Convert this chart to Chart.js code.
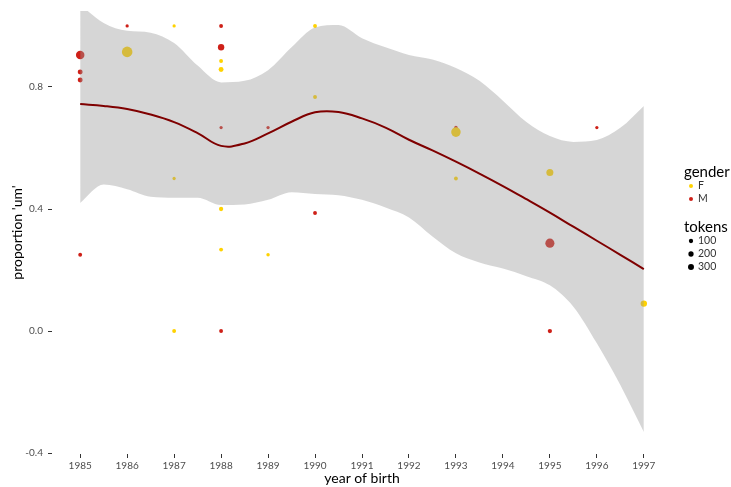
<!DOCTYPE html>
<html>
<head>
<meta charset="utf-8">
<script src="https://cdn.jsdelivr.net/npm/chart.js@4/dist/chart.umd.min.js"></script>
<style>
  html, body { margin: 0; padding: 0; background: #fff; }
  #chart { display: block; }
</style>
</head>
<body>
<canvas id="chart" width="731" height="487"></canvas>
<script>
// axis ticks
var xTicks = [1985, 1986, 1987, 1988, 1989, 1990, 1991, 1992, 1993, 1994, 1995, 1996, 1997];
var yTicks = [-0.4, 0, 0.4, 0.8];

// speakers, gender F
var femaleYear   = [1986, 1987, 1987, 1987, 1988, 1988, 1988, 1988, 1989, 1990, 1990, 1993, 1993, 1995, 1997];
var femaleProp   = [0.915, 1.0, 0.5, 0.0, 0.885, 0.857, 0.4, 0.267, 0.25, 1.0, 0.767, 0.652, 0.5, 0.52, 0.09];
var femaleTokens = [1390, 30, 30, 67, 67, 162, 100, 67, 40, 67, 67, 1070, 67, 476, 364];

// speakers, gender M
var maleYear   = [1985, 1985, 1985, 1985, 1986, 1988, 1988, 1988, 1988, 1989, 1990, 1993, 1995, 1995, 1996];
var maleProp   = [0.905, 0.849, 0.823, 0.25, 1.0, 1.0, 0.93, 0.667, 0.0, 0.667, 0.387, 0.667, 0.288, 0.0, 0.667];
var maleTokens = [794, 162, 162, 67, 30, 67, 364, 30, 67, 30, 67, 40, 955, 100, 30];

// loess fit and its confidence band
var smoothYear  = [1985, 1985.5, 1986, 1986.5, 1987, 1987.5, 1988, 1988.5, 1989, 1989.5, 1990, 1990.5, 1991,
                   1991.5, 1992, 1992.5, 1993, 1993.5, 1994, 1994.5, 1995, 1995.5, 1996, 1996.5, 1997];
var smoothFit   = [0.744, 0.738, 0.728, 0.71, 0.685, 0.649, 0.607, 0.615, 0.648, 0.686, 0.717, 0.718, 0.697,
                   0.667, 0.627, 0.592, 0.555, 0.516, 0.475, 0.432, 0.388, 0.342, 0.296, 0.25, 0.203];
var smoothUpper = [1.069, 1.01, 0.984, 0.978, 0.944, 0.87, 0.815, 0.82, 0.855, 0.93, 0.995, 1.003, 0.96,
                   0.93, 0.905, 0.89, 0.862, 0.82, 0.755, 0.685, 0.639, 0.62, 0.626, 0.666, 0.738];
var smoothLower = [0.42, 0.48, 0.465, 0.44, 0.437, 0.437, 0.413, 0.415, 0.43, 0.455, 0.449, 0.445, 0.43,
                   0.405, 0.372, 0.31, 0.255, 0.225, 0.205, 0.18, 0.15, 0.08, -0.04, -0.177, -0.331];

var legendTokens = [100, 200, 300];

var colF = 'rgb(255, 210, 0)';
var colM = 'rgb(206, 32, 24)';
var fontFamily = 'Lato, "Liberation Sans", sans-serif';

function radiusFor(t) {
  return 1.0 + 0.115 * Math.sqrt(t);
}

function pairs(xs, ys) {
  return xs.map(function (x, i) { return { x: x, y: ys[i] }; });
}

var legendPlugin = {
  id: 'ggLegend',
  afterDraw: function (chart) {
    var ctx = chart.ctx;
    ctx.save();
    ctx.textBaseline = 'middle';
    ctx.textAlign = 'left';

    ctx.fillStyle = '#000';
    ctx.font = '15px ' + fontFamily;
    ctx.fillText('gender', 684, 172);
    ctx.fillText('tokens', 684, 227);

    ctx.font = '10.5px ' + fontFamily;
    [['F', colF, 186], ['M', colM, 199]].forEach(function (g) {
      ctx.fillStyle = g[1];
      ctx.beginPath();
      ctx.arc(691, g[2], 2, 0, Math.PI * 2);
      ctx.fill();
      ctx.fillStyle = '#333';
      ctx.fillText(g[0], 698, g[2]);
    });

    legendTokens.forEach(function (t, i) {
      var y = 241 + i * 13;
      ctx.fillStyle = '#000';
      ctx.beginPath();
      ctx.arc(691, y, radiusFor(t), 0, Math.PI * 2);
      ctx.fill();
      ctx.fillStyle = '#333';
      ctx.fillText(String(t), 698, y);
    });
    ctx.restore();
  }
};

var chart = new Chart(document.getElementById('chart').getContext('2d'), {
  type: 'line',
  data: {
    datasets: [
      {
        label: 'fit',
        data: pairs(smoothYear, smoothFit),
        borderColor: '#7f0000',
        borderWidth: 2,
        pointRadius: 0,
        fill: false,
        tension: 0.4,
        order: 0
      },
      {
        label: 'upper',
        data: pairs(smoothYear, smoothUpper),
        borderWidth: 0,
        borderColor: 'rgba(0,0,0,0)',
        backgroundColor: 'rgba(153,153,153,0.4)',
        pointRadius: 0,
        fill: '+1',
        cubicInterpolationMode: 'monotone',
        order: 1
      },
      {
        label: 'lower',
        data: pairs(smoothYear, smoothLower),
        borderWidth: 0,
        borderColor: 'rgba(0,0,0,0)',
        pointRadius: 0,
        fill: false,
        cubicInterpolationMode: 'monotone',
        order: 1
      },
      {
        label: 'F',
        data: pairs(femaleYear, femaleProp),
        showLine: false,
        pointBackgroundColor: colF,
        pointBorderWidth: 0,
        pointRadius: function (c) { return radiusFor(femaleTokens[c.dataIndex]); },
        order: 2
      },
      {
        label: 'M',
        data: pairs(maleYear, maleProp),
        showLine: false,
        pointBackgroundColor: colM,
        pointBorderWidth: 0,
        pointRadius: function (c) { return radiusFor(maleTokens[c.dataIndex]); },
        order: 2
      }
    ]
  },
  options: {
    responsive: false,
    animation: false,
    events: [],
    layout: { padding: { left: 0, right: 59, top: 0, bottom: 0 } },
    plugins: {
      legend: { display: false },
      tooltip: { enabled: false }
    },
    scales: {
      x: {
        type: 'linear',
        min: 1984.4,
        max: 1997.6,
        afterBuildTicks: function (s) { s.ticks = xTicks.map(function (v) { return { value: v }; }); },
        afterFit: function (s) { s.height = 33; },
        border: { display: false },
        grid: { drawOnChartArea: false, drawTicks: true, tickLength: 4, color: '#333' },
        ticks: {
          padding: 2,
          color: '#4d4d4d',
          font: { family: fontFamily, size: 10 },
          maxRotation: 0,
          callback: function (v) { return String(v); }
        },
        title: {
          display: true,
          text: 'year of birth',
          color: '#000',
          font: { family: fontFamily, size: 14 },
          padding: { top: 0, bottom: 0 }
        }
      },
      y: {
        min: -0.403,
        max: 1.049,
        afterBuildTicks: function (s) { s.ticks = yTicks.map(function (v) { return { value: v }; }); },
        afterFit: function (s) { s.width = 52; },
        border: { display: false },
        grid: { drawOnChartArea: false, drawTicks: true, tickLength: 4, color: '#333' },
        ticks: {
          padding: 5,
          color: '#4d4d4d',
          font: { family: fontFamily, size: 10 },
          callback: function (v) { return v.toFixed(1); }
        },
        title: {
          display: true,
          text: "proportion 'um'",
          color: '#000',
          font: { family: fontFamily, size: 14 },
          padding: { top: 9, bottom: 0 }
        }
      }
    }
  },
  plugins: [legendPlugin]
});
</script>
</body>
</html>
